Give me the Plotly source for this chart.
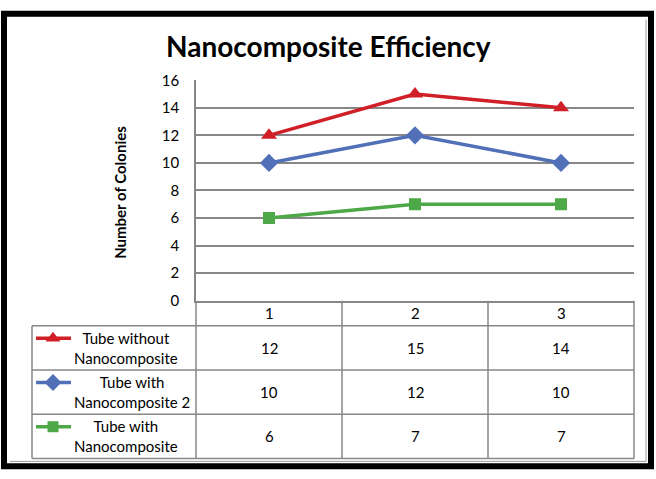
import plotly.graph_objects as go

# ---- data ----
categories = [1, 2, 3]
series_names = ["Tube without<br>Nanocomposite", "Tube with<br>Nanocomposite 2", "Tube with<br>Nanocomposite"]
without_nano = [12, 15, 14]
with_nano_2 = [10, 12, 10]
with_nano = [6, 7, 7]
y_ticks = [0, 2, 4, 6, 8, 10, 12, 14, 16]
title_text = "Nanocomposite Efficiency"
y_title = "Number of Colonies"

W, H = 656, 479
FONT = "Lato, 'Open Sans', sans-serif"
GRID = "#878787"

def px(x):
    return x / W

def py(y):
    return 1 - y / H

styles = [
    dict(color="#D11F27", symbol="triangle-up", size=14),
    dict(color="#5170B8", symbol="diamond", size=14),
    dict(color="#4DA847", symbol="square", size=12),
]
series = [without_nano, with_nano_2, with_nano]

# plot area in pixels
PL, PR, PT, PB = 196, 634, 73, 302
# table rows (pixel y)
rows = [302, 328, 374, 420, 466]
col_edges = [196, 342, 488, 634]
TL = 32

fig = go.Figure()

for name, vals, st in zip(series_names, series, styles):
    fig.add_trace(go.Scatter(
        x=categories, y=vals, mode="lines+markers", name=name.replace("<br>", " "),
        line=dict(color=st["color"], width=3.5),
        marker=dict(color=st["color"], symbol=st["symbol"], size=st["size"], line=dict(width=0)),
        showlegend=False, cliponaxis=False, xaxis="x", yaxis="y",
    ))

# legend keys inside the data table (pixel-coordinate overlay axes)
for i, st in enumerate(styles):
    yk = rows[i + 1] + 13
    fig.add_trace(go.Scatter(
        x=[36, 53, 71], y=[yk, yk, yk], mode="lines",
        line=dict(color=st["color"], width=3.5),
        showlegend=False, xaxis="x2", yaxis="y2", hoverinfo="skip",
    ))
    fig.add_trace(go.Scatter(
        x=[53], y=[yk], mode="markers",
        marker=dict(color=st["color"], symbol=st["symbol"], size=st["size"] - 1, line=dict(width=0)),
        showlegend=False, xaxis="x2", yaxis="y2", hoverinfo="skip",
    ))

shapes = []
def hline(y, x0, x1, color=GRID, w=1.5):
    shapes.append(dict(type="line", xref="paper", yref="paper", x0=px(x0), x1=px(x1),
                       y0=py(y), y1=py(y), line=dict(color=color, width=w)))
def vline(x, y0, y1, color=GRID, w=1.5):
    shapes.append(dict(type="line", xref="paper", yref="paper", x0=px(x), x1=px(x),
                       y0=py(y0), y1=py(y1), line=dict(color=color, width=w)))

# table grid
for r in rows[1:]:
    hline(r, TL, PR)
vline(TL, rows[1], rows[-1])
vline(PL, PB, rows[-1])
for c in col_edges[1:]:
    vline(c, PB, rows[-1])

# outer frame
shapes.append(dict(type="rect", xref="paper", yref="paper", x0=px(4), x1=px(651),
                   y0=py(474), y1=py(4), line=dict(color="black", width=6)))
shapes.append(dict(type="line", xref="paper", yref="paper", x0=px(646), x1=px(646),
                   y0=py(10), y1=py(469), line=dict(color="#9a9a9a", width=1)))
shapes.append(dict(type="line", xref="paper", yref="paper", x0=px(10), x1=px(646),
                   y0=py(469), y1=py(469), line=dict(color="#9a9a9a", width=1)))

def ann(x, y, text, xref="paper", size=15, **kw):
    d = dict(x=x, y=y, xref=xref, yref="paper", text=text, showarrow=False,
             xanchor="center", yanchor="middle",
             font=dict(size=size, color="black", family=FONT))
    d.update(kw)
    return d

annotations = []
# header row category labels
for c in categories:
    annotations.append(ann(c, py((rows[0] + rows[1]) / 2), str(c), xref="x"))
# values and row labels
for i, vals in enumerate(series):
    yc = py((rows[i + 1] + rows[i + 2]) / 2)
    for c, v in zip(categories, vals):
        annotations.append(ann(c, yc, str(v), xref="x"))
    annotations.append(ann(px(72), yc, series_names[i], xanchor="left", align="center"))

# title and y-axis title
annotations.append(ann(px(328), py(37), "<b>" + title_text + "</b>", size=28))
annotations.append(ann(px(120), py(190), "<b>" + y_title + "</b>", textangle=-90))

fig.update_layout(
    width=W, height=H,
    margin=dict(l=0, r=0, t=0, b=0),
    paper_bgcolor="white", plot_bgcolor="rgba(0,0,0,0)",
    font=dict(family=FONT, color="black", size=15),
    xaxis=dict(domain=[px(PL), px(PR)], range=[0.5, 3.5], showgrid=False, zeroline=False,
               showticklabels=False, ticks="", showline=True, linecolor=GRID, linewidth=1.5,
               fixedrange=True),
    yaxis=dict(domain=[py(PB), py(PT)], range=[0, 16], tickvals=y_ticks, showgrid=True,
               gridcolor=GRID, gridwidth=1.5, zeroline=False, showline=True, linecolor=GRID,
               linewidth=1.5, ticks="", ticklabelstandoff=12, tickfont=dict(size=15, family=FONT),
               fixedrange=True),
    xaxis2=dict(domain=[0, 1], range=[0, W], visible=False, anchor="y2", fixedrange=True),
    yaxis2=dict(domain=[0, 1], range=[H, 0], visible=False, anchor="x2", fixedrange=True),
    shapes=shapes, annotations=annotations,
)

post = (
    "document.documentElement.style.margin='0';document.documentElement.style.overflow='hidden';"
    "document.body.style.margin='0';document.body.style.overflow='hidden';"
)
fig.write_html("out.html", config={"displayModeBar": False}, post_script=post)
